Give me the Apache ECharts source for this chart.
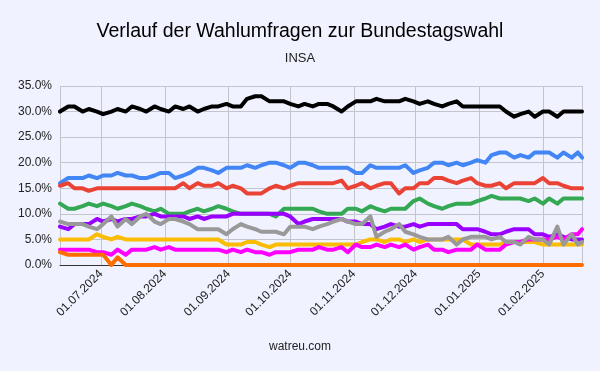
<!DOCTYPE html>
<html><head><meta charset="utf-8">
<script src="https://cdn.jsdelivr.net/npm/echarts@6/dist/echarts.min.js"></script>
<style>html,body{margin:0;padding:0;background:#f0f3ff;}#c{width:600px;height:371px;}</style>
</head><body><div id="c"></div>
<script>
const dates = ['2024-06-11','2024-06-15','2024-06-18','2024-06-22','2024-06-25','2024-06-29','2024-07-02','2024-07-06','2024-07-09','2024-07-13','2024-07-16','2024-07-20','2024-07-23','2024-07-27','2024-07-30','2024-08-03','2024-08-06','2024-08-10','2024-08-13','2024-08-17','2024-08-20','2024-08-24','2024-08-27','2024-08-31','2024-09-03','2024-09-07','2024-09-10','2024-09-14','2024-09-17','2024-09-21','2024-09-24','2024-09-28','2024-10-01','2024-10-05','2024-10-08','2024-10-12','2024-10-15','2024-10-19','2024-10-22','2024-10-26','2024-10-29','2024-11-02','2024-11-05','2024-11-09','2024-11-12','2024-11-16','2024-11-19','2024-11-23','2024-11-26','2024-11-30','2024-12-03','2024-12-07','2024-12-10','2024-12-14','2024-12-17','2024-12-21','2024-12-24','2024-12-28','2024-12-31','2025-01-04','2025-01-07','2025-01-11','2025-01-14','2025-01-18','2025-01-21','2025-01-25','2025-01-28','2025-02-01','2025-02-04','2025-02-08','2025-02-11','2025-02-15','2025-02-18','2025-02-20'];
const union = [30,31,31,30,30.5,30,29.5,30,30.5,30,31,30.5,30, 31,30.5,30,31,30.5,31,30,30.5,31,31,31.5,31, 31,32.5,33,33,32,32,32,31.5,31,31.5,31,31.5, 31.5,31,30,31,32,32,32,32.5,32,32,32,32.5, 32,31.5,32,31.5,31,31.5,32,31,31,31,31,31,31, 30,29,29.5,30,29,30,30,29,30,30,30,30];
const afd = [16,17,17,17,17.5,17,17.5,17.5,18,17.5,17.5,17,17, 17.5,18,18,17,17.5,18,19,19,18.5,18,19,19, 19,19.5,19,19.5,20,20,19.5,19,20,20,19.5,19, 19,19,19,19,18,18,19.5,19,19,19,19,19.5, 18,18.5,19,20,20,19.5,20,19.5,20,20.5,20,21.5,22, 22,21,21.5,21,22,22,22,21,22,21,22,21];
const spd = [15.5,16,15,15,14.5,15,15,15,15,15,15,15,15, 15,15,15,15,16,15,16,15.5,15.5,16,15,15.5, 15,14,14,14,15,15.5,15,15.5,16,16,16,16, 16,16,16.5,15,15.5,16,15,15.5,16,16,14,15, 15,16,16,17,17,16.5,16,16.5,17,16,15.5,15.5,16, 15,16,16,16,16,17,16,16,15.5,15,15,15];
const gruene = [12,11,11,11.5,12,11.5,12,11.5,11,11.5,12,11.5,11, 10.5,11,10,10,10,10.5,11,10.5,11,11.5,11,10.5, 10,10,10,10,10,9.5,11,11,11,11,11,10.5, 10,10,10,11,11,10.5,11.5,11,10.5,11,11,11, 12.5,13,12,11.5,11,11.5,12,12,12,12.5,13,13.5,13, 13,13,13,12.5,13,12,13,12,13,13,13,13];
const fdp = [5,5,5,5,5,6,5.5,5,5.5,5,5,5,5, 5,5,5,5,5,5,5,5,5,5,4,4, 4,4.5,4.5,4,3.5,4,4,4,4,4,4,4, 4,4,4,4,4,4.5,5,5,4.5,5,5,4.5, 5,4.5,5,5,5,5,5,5,4,4,4,4,4, 4.5,4.5,4.5,4.5,4.5,4,4,4,4,4,4,4];
const bsw = [7.5,7,8,8,8,9,8.5,9,8.5,9,9,9.5,9.5, 10,9.5,9.5,9.5,9.5,9,9.5,9,9.5,9.5,9.5,10, 10,10,10,10,10,10,10,9.5,8,8.5,9,9, 9,9,9,8.5,8.5,8,8,7,7.5,8,7.5,7.5, 8,7.5,8,8,8,8,8,7,7,7,6.5,6,6, 6.5,7,7,7,6,6,5.5,6,5.5,5,5,5];
const linke = [3,3,3,3,3,2.5,2.5,2,3,2,3,3,3, 3.5,3,3.5,3,3,3,3,3,3,3,2.5,3, 2.5,3,2.5,2.5,2,2.5,2.5,2.5,3,3,3,3.5, 3,3,3.5,2.5,4,3.5,3.5,4,3.5,4,3.5,4, 3,3.5,4,3,3,2.5,3,3,3,4,3,3,3, 4,4.5,4.5,5,5,5,5,5.5,5,6,6,7];
const fw = [2.5,2,2,2,2,2,2,0,1.5,0,0,0,0, 0,0,0,0,0,0,0,0,0,0,0,0, 0,0,0,0,0,0,0,0,0,0,0,0, 0,0,0,0,0,0,0,0,0,0,0,0, 0,0,0,0,0,0,0,0,0,0,0,0,0, 0,0,0,0,0,0,0,0,0,0,0,0];
const sonstige = [8.5,8,8,8,7.5,7,8,9.5,7.5,9,8,9.5,10, 8.5,8,9,9,8.5,8,7,7,7,7,6,7, 8,7.5,7,6.5,6.5,6.5,6,7.5,7.5,7.5,7,7.5, 8,8.5,9,8.5,8,8,9.5,5.5,6.5,7,8,6.5, 6,5.5,5,5,5,5.5,4,5,5.5,5.5,5.5,5,5.5, 4.5,4.5,4,5.5,5,5,4,7.5,4,6,4,4.5];
const yTicks = [0,5,10,15,20,25,30,35];

const parties = [
  {name:'CDU/CSU', data:union, color:'#000000'},
  {name:'AfD', data:afd, color:'#4285f4'},
  {name:'SPD', data:spd, color:'#ea4335'},
  {name:'Grüne', data:gruene, color:'#34a853'},
  {name:'FDP', data:fdp, color:'#fbbc04'},
  {name:'BSW', data:bsw, color:'#9900ff'},
  {name:'Linke', data:linke, color:'#ff00ff'},
  {name:'Sonstige', data:sonstige, color:'#999999'},
  {name:'FW', data:fw, color:'#ff6d01'}
];
function pad(n){return (n<10?'0':'')+n;}
const chart = echarts.init(document.getElementById('c'));
chart.setOption({
  backgroundColor:'#f0f3ff',
  animation:false,
  title:[
    {text:'Verlauf der Wahlumfragen zur Bundestagswahl', left:'center', top:22, padding:0,
     textStyle:{fontFamily:'Liberation Sans, Arial', fontSize:19.5, fontWeight:'normal', color:'#000'}},
    {text:'INSA', left:'center', top:52, padding:0,
     textStyle:{fontFamily:'Liberation Sans, Arial', fontSize:13, fontWeight:'normal', color:'#222'}},
    {text:'watreu.com', left:'center', top:341, padding:0,
     textStyle:{fontFamily:'Liberation Sans, Arial', fontSize:12, fontWeight:'normal', color:'#222'}}
  ],
  grid:{left:60, right:18, top:86, bottom:106},
  xAxis:{
    type:'time',
    min:+new Date(2024,5,11), max:+new Date(2025,1,20),
    minInterval:28*86400000, maxInterval:31*86400000,
    axisLine:{show:true, lineStyle:{color:'#333', width:1}},
    axisTick:{show:false},
    splitLine:{show:true, lineStyle:{color:'#c4c4cc', width:1}},
    axisLabel:{rotate:45, fontFamily:'Liberation Sans, Arial', fontSize:12, color:'#222', margin:7,
      showMinLabel:false, showMaxLabel:false,
      formatter:function(v){const d=new Date(v); return pad(d.getDate())+'.'+pad(d.getMonth()+1)+'.'+d.getFullYear();}}
  },
  yAxis:{
    type:'value', min:yTicks[0], max:yTicks[yTicks.length-1], interval:5,
    axisLine:{show:false}, axisTick:{show:false},
    splitLine:{lineStyle:{color:'#c4c4cc', width:1}},
    axisLabel:{fontFamily:'Liberation Sans, Arial', fontSize:12, color:'#222', margin:8,
      formatter:function(v){return v.toFixed(1)+'%';}}
  },
  series: parties.map(p=>({
    name:p.name, type:'line', showSymbol:false, symbol:'none',
    data: dates.map((d,i)=>[d, p.data[i]]),
    lineStyle:{color:p.color, width:4, join:'round', cap:'round'},
    itemStyle:{color:p.color}
  }))
});
</script></body></html>
